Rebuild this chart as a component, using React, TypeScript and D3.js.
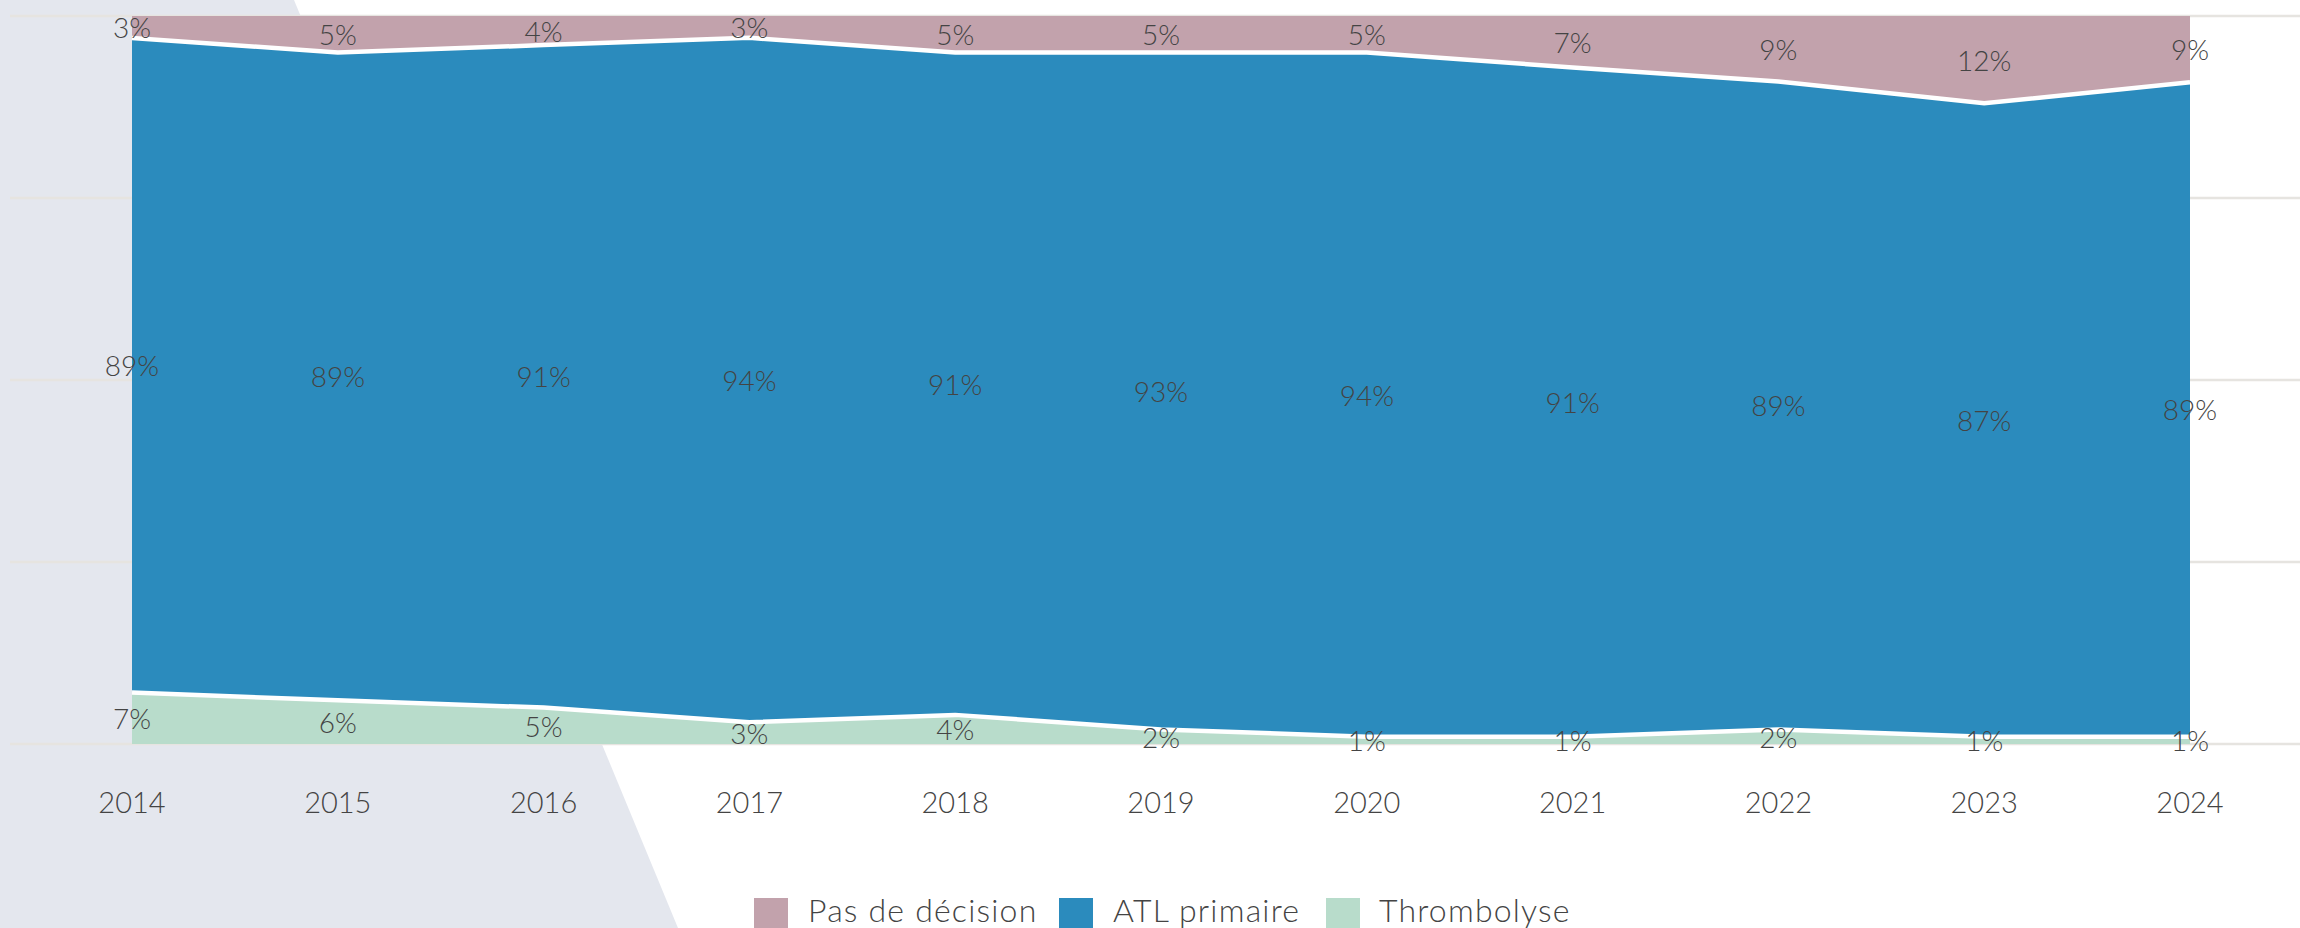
import React from "react";
import * as d3 from "d3";

const years = ["2014","2015","2016","2017","2018","2019","2020","2021","2022","2023","2024"];
const thrombolyse = [7, 6, 5, 3, 4, 2, 1, 1, 2, 1, 1];
const atlPrimaire = [89, 89, 91, 94, 91, 93, 94, 91, 89, 87, 89];
const pasDeDecision = [3, 5, 4, 3, 5, 5, 5, 7, 9, 12, 9];
const gridTicks = [0, 0.25, 0.5, 0.75, 1];

const seriesKeys = ["thrombolyse", "atl", "pas"];
const seriesNames: Record<string, string> = { pas: "Pas de décision", atl: "ATL primaire", thrombolyse: "Thrombolyse" };
const colors: Record<string, string> = { pas: "#c2a2ac", atl: "#2b8bbd", thrombolyse: "#b8dccb" };

const W = 2300, H = 928;
const FONT = "Lato, 'Open Sans', sans-serif";

export default function App() {
  const rows = years.map((y, i) => ({ year: y, thrombolyse: thrombolyse[i], atl: atlPrimaire[i], pas: pasDeDecision[i] }));
  const stack = d3.stack<any>().keys(seriesKeys).offset(d3.stackOffsetExpand);
  const layers = stack(rows);
  const x = d3.scalePoint<string>().domain(years).range([132, 2190]);
  const y = d3.scaleLinear().domain([0, 1]).range([744, 16]);
  const area = d3.area<any>().x((d) => x(d.data.year)!).y0((d) => y(d[0])).y1((d) => y(d[1]));
  const topLine = d3.line<any>().x((d) => x(d.data.year)!).y((d) => y(d[1]));
  const valueOf: Record<string, number[]> = { thrombolyse, atl: atlPrimaire, pas: pasDeDecision };

  const legendItems = [
    { key: "pas", sx: 754, tx: 808 },
    { key: "atl", sx: 1059, tx: 1113 },
    { key: "thrombolyse", sx: 1326, tx: 1379 },
  ];

  return (
    <svg width={W} height={H} style={{ position: "absolute", left: 0, top: 0, background: "#fff" }} fontFamily={FONT}>
      <rect x={0} y={0} width={W} height={H} fill="#fff" />
      <polygon points={`0,0 294,0 678,${H} 0,${H}`} fill="#e4e7ee" />
      {gridTicks.map((t) => (
        <line key={t} x1={10} x2={W} y1={y(t)} y2={y(t)} stroke="#e6e4e0" strokeWidth={2.5} />
      ))}
      {layers.map((layer) => (
        <path key={layer.key} d={area(layer)!} fill={colors[layer.key]} />
      ))}
      {layers.slice(0, 2).map((layer) => (
        <path key={"l" + layer.key} d={topLine(layer)!} fill="none" stroke="#fff" strokeWidth={4.5} />
      ))}
      {layers.map((layer) =>
        layer.map((d: any, i: number) => (
          <text
            key={layer.key + i}
            x={x(d.data.year)}
            y={y((d[0] + d[1]) / 2)}
            textAnchor="middle"
            dominantBaseline="central"
            fontSize={28}
            fontWeight={300}
            fill="#444"
          >
            {valueOf[layer.key][i]}%
          </text>
        ))
      )}
      {years.map((yr) => (
        <text key={yr} x={x(yr)} y={801} textAnchor="middle" dominantBaseline="central" fontSize={29} fontWeight={300} fill="#444">
          {yr}
        </text>
      ))}
      {legendItems.map((it) => (
        <g key={it.key}>
          <rect x={it.sx} y={898} width={34} height={34} fill={colors[it.key]} />
          <text x={it.tx} y={909} dominantBaseline="central" fontSize={32} letterSpacing={1.2} fontWeight={300} fill="#444">
            {seriesNames[it.key]}
          </text>
        </g>
      ))}
    </svg>
  );
}
